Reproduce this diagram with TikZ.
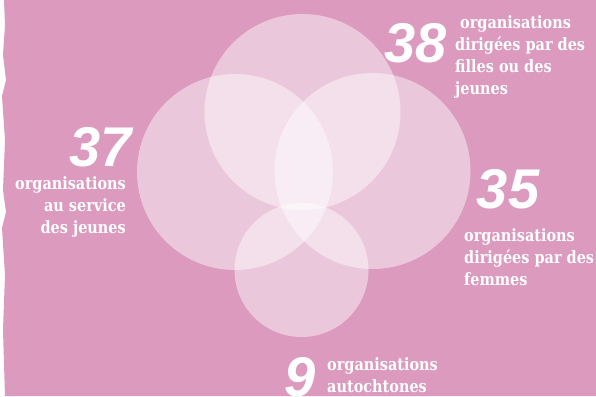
\documentclass[tikz,border=0pt]{standalone}
\usepackage{fontspec}
\newfontfamily\lblfont{DejaVu Serif}[FakeStretch=0.85]
\newfontfamily\numfont{Liberation Sans}
\definecolor{bgpink}{RGB}{219,154,190}
\tikzset{
  lbl/.style={text=white, inner sep=0pt, font=\lblfont\bfseries\fontsize{17}{22}\selectfont},
  bignum/.style={text=white, inner sep=0pt, font=\numfont\bfseries\itshape\fontsize{56}{56}\selectfont},
  venn/.style={fill=white, fill opacity=0.45}
}
\begin{document}
\begin{tikzpicture}[x=1pt,y=-1pt]
\useasboundingbox (0,0) rectangle (596,396);
\fill[white] (0,0) rectangle (596,396);
\fill[bgpink] (4,0) -- (5,25) -- (3,55) -- (6,80) -- (2,96) -- (5,140) -- (3,190) -- (6,212) -- (2,228) -- (5,275) -- (3,330) -- (5,396) -- (596,396) -- (596,0) -- cycle;
\fill[venn] (302.5,112) circle (98pt);
\fill[venn] (235,172) circle (98pt);
\fill[venn] (372.5,171) circle (98pt);
\fill[venn] (301.5,270) circle (67pt);
\node[bignum] (n38) at (416,43) {38};
\node[lbl, anchor=north west, align=left] (t38) at (455,15.5) {\ organisations\\dirigées par des\\filles ou des\\jeunes};
\node[bignum] (n37) at (101,147) {37};
\node[lbl, anchor=north east, align=right] (t37) at (126,176.5) {organisations\\au service\\des jeunes};
\node[bignum] (n35) at (508,189) {35};
\node[lbl, anchor=north west, align=left] (t35) at (464,228.5) {organisations\\dirigées par des\\femmes};
\node[bignum] (n9) at (300,377) {9};
\node[lbl, anchor=north west, align=left] (t9) at (327,357) {organisations\\autochtones};
\end{tikzpicture}
\end{document}
